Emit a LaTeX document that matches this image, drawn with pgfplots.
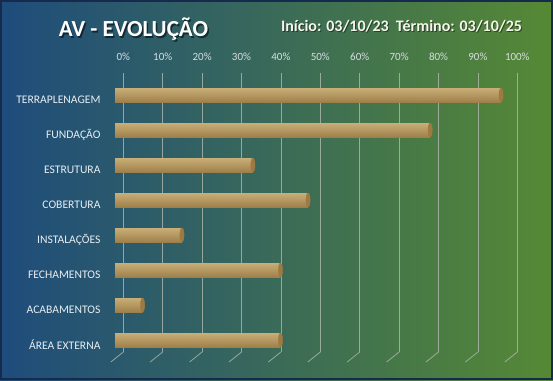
\documentclass[border=0pt]{standalone}
\usepackage{pgfplots}
\pgfplotsset{compat=1.18}
\usepackage{fontspec}
\setmainfont{Carlito}
\definecolor{bgL}{RGB}{30,76,124}
\definecolor{bgR}{RGB}{86,137,52}
\definecolor{frm}{RGB}{22,42,78}
\definecolor{gridc}{RGB}{175,185,175}
\definecolor{barTop}{RGB}{200,174,120}
\definecolor{barMid}{RGB}{232,210,158}
\definecolor{barBot}{RGB}{160,128,74}
\definecolor{capc}{RGB}{158,122,64}
\definecolor{tickc}{RGB}{215,222,228}
\definecolor{labc}{RGB}{232,238,242}
\pgfplotsset{cyl/.style={xbar, bar width=14pt, draw=none, top color=barTop, middle color=barMid, bottom color=barBot, forget plot}}
\begin{document}
\begin{tikzpicture}[x=1pt,y=1pt]
\fill[left color=bgL, right color=bgR] (0,0) rectangle (553,380);
\draw[line width=2pt, frm] (1,1) rectangle (552,379);
% title
\node[anchor=base, font=\bfseries\fontsize{23}{27}\selectfont, text=black, opacity=0.55] at (135,341.5) {AV - EVOLUÇÃO};
\node[anchor=base, font=\bfseries\fontsize{23}{27}\selectfont, text=white] at (133.5,343) {AV - EVOLUÇÃO};
\node[anchor=base, font=\bfseries\fontsize{16}{19}\selectfont, text=black, opacity=0.45] at (402.5,347) {Início: 03/10/23\ \ Término: 03/10/25};
\node[anchor=base, font=\bfseries\fontsize{16}{19}\selectfont, text={rgb,255:red,245;green,245;blue,235}] at (401.5,348) {Início: 03/10/23\ \ Término: 03/10/25};
% grid axis
\begin{axis}[
  at={(123.3pt,28pt)}, anchor=south west, scale only axis,
  width=394pt, height=279pt,
  xmin=0, xmax=100, ymin=0, ymax=1,
  axis x line*=top, axis y line=none,
  axis line style={draw=none}, tick style={draw=none},
  xtick={0,10,...,100},
  xticklabel={\pgfmathprintnumber{\tick}\%},
  xticklabel style={font=\fontsize{11}{13}\selectfont, text=tickc, yshift=9pt},
  /pgf/number format/assume math mode=true,
  xmajorgrids, grid style={gridc, line width=0.8pt, opacity=0.8},
  clip=false,
]
\pgfplotsinvokeforeach{0,10,...,100}{
  \draw[gridc, line width=0.8pt, opacity=0.8] (axis cs:#1,0) -- ++(-12.5pt,-10pt);
}
\end{axis}
% bar axis
\begin{axis}[
  at={(115pt,22.5pt)}, anchor=south west, scale only axis,
  width=394pt, height=280pt,
  xmin=0, xmax=100, ymin=-0.5, ymax=7.5,
  hide x axis,
  axis y line*=left, axis line style={draw=none}, tick style={draw=none},
  ytick={0,...,7},
  yticklabels={ÁREA EXTERNA, ACABAMENTOS, FECHAMENTOS, INSTALAÇÕES, COBERTURA, ESTRUTURA, FUNDAÇÃO, TERRAPLENAGEM},
  yticklabel style={font=\fontsize{11.6}{14}\selectfont, text=labc, xshift=-11pt, yshift=-5pt},
  clip=false,
]
\addplot[cyl] coordinates {(98,7)};
\addplot[cyl] coordinates {(80,6)};
\addplot[cyl] coordinates {(35,5)};
\addplot[cyl] coordinates {(49,4)};
\addplot[cyl] coordinates {(17,3)};
\addplot[cyl] coordinates {(42,2)};
\addplot[cyl] coordinates {(7,1)};
\addplot[cyl] coordinates {(42,0)};
\addplot[only marks, mark=*, mark size=7pt, mark options={xscale=0.3, fill=capc, draw=capc}]
  coordinates {(98,7) (80,6) (35,5) (49,4) (17,3) (42,2) (7,1) (42,0)};
\end{axis}
\end{tikzpicture}
\end{document}
